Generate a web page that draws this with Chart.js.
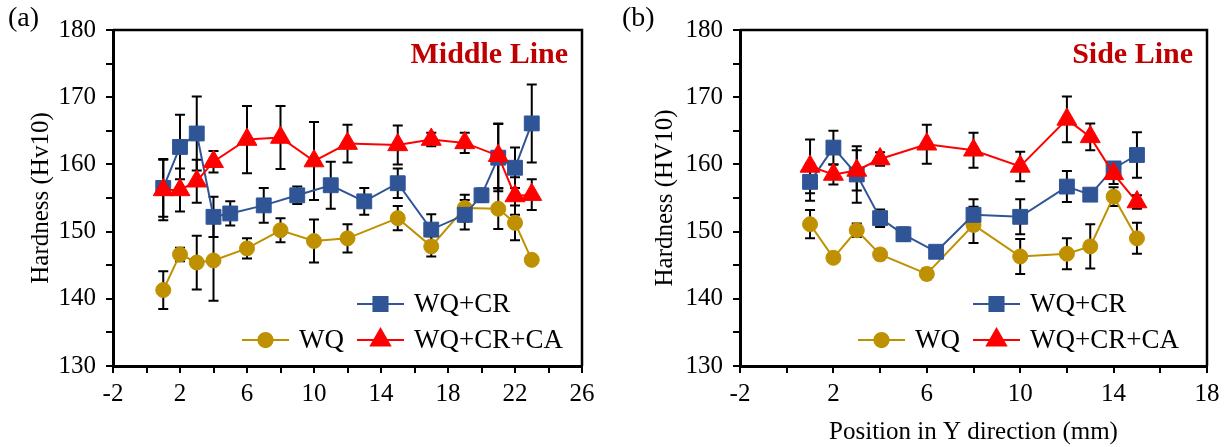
<!DOCTYPE html>
<html><head><meta charset="utf-8">
<script src="https://cdn.jsdelivr.net/npm/chart.js@4.4.1/dist/chart.umd.min.js"></script>
<style>
html,body{margin:0;padding:0;background:#fff;}
#wrap{position:relative;width:1231px;height:447px;overflow:hidden;}
.box{position:absolute;top:0;height:447px;}
#b1{left:0;width:616px;} #b2{left:616px;width:615px;}
canvas{display:block;}
</style></head><body>
<div id="wrap">
<div class="box" id="b1"><canvas id="c1" width="616" height="447"></canvas></div>
<div class="box" id="b2"><canvas id="c2" width="615" height="447"></canvas></div>
</div>
<script>
// ---------- DATA ----------
const seriesNames = ['WQ+CR', 'WQ+CR+CA', 'WQ'];
const panelLetters = ['(a)', '(b)'];
const panelLabels = ['Middle Line', 'Side Line'];
const yTitles = ['Hardness (Hv10)', 'Hardness (HV10)'];
const xTitle = 'Position in Y direction (mm)';
const yTickLabels = [130, 140, 150, 160, 170, 180];
const xTickLabelsMid = [-2, 2, 6, 10, 14, 18, 22, 26];
const xTickLabelsSide = [-2, 2, 6, 10, 14, 18];

// Middle line
const midX_CR = [1, 2, 3, 4, 5, 7, 9, 11, 13, 15, 17, 19, 20, 21, 22, 23];
const midCR = [156.5, 162.6, 164.6, 152.2, 152.7, 153.9, 155.4, 156.9, 154.5, 157.2, 150.3, 152.5, 155.4, 161.0, 159.5, 166.1];
const midCR_err = [4.3, 4.8, 5.5, 3.0, 1.8, 2.6, 1.3, 3.5, 2.0, 2.2, 2.3, 2.2, 1.0, 5.0, 3.0, 5.8];

const midX_CA = [1, 2, 3, 4, 6, 8, 10, 12, 15, 17, 19, 21, 22, 23];
const midCA = [156.2, 156.2, 157.5, 160.4, 163.7, 164.0, 160.5, 163.1, 162.9, 163.7, 163.2, 161.3, 155.3, 155.5];
const midCA_err = [4.5, 3.2, 3.2, 1.6, 5.0, 4.7, 5.8, 2.8, 2.9, 1.0, 1.5, 4.8, 2.8, 2.3];

const midX_WQ = [1, 2, 3, 4, 6, 8, 10, 12, 15, 17, 19, 21, 22, 23];
const midWQ = [141.3, 146.6, 145.4, 145.7, 147.5, 150.2, 148.6, 149.0, 152.0, 147.8, 153.5, 153.4, 151.3, 145.8];
const midWQ_err = [2.8, 1.0, 4.0, 6.0, 1.5, 1.8, 3.2, 2.1, 1.8, 1.5, 2.0, 3.0, 2.6, 0];

// Side line
const sideX_CR = [1, 2, 3, 4, 5, 6.4, 8, 10, 12, 13, 14, 15];
const sideCR = [157.4, 162.5, 158.5, 152.0, 149.6, 147.0, 152.5, 152.2, 156.7, 155.5, 159.4, 161.4];
const sideCR_err = [2.8, 2.5, 4.2, 1.3, 1.0, 0.6, 2.3, 2.6, 2.3, 0.3, 0.5, 3.4];

const sideX_CA = [1, 2, 3, 4, 6, 8, 10, 12, 13, 14, 15];
const sideCA = [159.7, 158.5, 159.1, 160.8, 163.0, 162.1, 159.7, 166.7, 164.1, 158.6, 154.4];
const sideCA_err = [4.0, 1.5, 3.0, 1.0, 2.9, 2.6, 2.2, 3.4, 2.0, 1.5, 1.0];

const sideX_WQ = [1, 2, 3, 4, 6, 8, 10, 12, 13, 14, 15];
const sideWQ = [151.1, 146.1, 150.2, 146.6, 143.7, 151.0, 146.3, 146.7, 147.8, 155.2, 149.0];
const sideWQ_err = [2.1, 0.5, 1.0, 0.8, 0.8, 2.7, 2.6, 2.3, 3.3, 1.4, 2.3];

// ---------- STYLE ----------
const SERIF = '"Liberation Serif", "Times New Roman", serif';
const styles = {
  'WQ+CR': {color: '#2F5597', pointStyle: 'rect', radius: 10.5, order: 1},
  'WQ+CR+CA': {color: '#FF0000', pointStyle: 'triangle', radius: 11.5, order: 0},
  'WQ': {color: '#BF9000', pointStyle: 'circle', radius: 7.5, order: 2}
};

function toPts(xs, ys) { return xs.map((x, i) => ({x: x, y: ys[i]})); }

function makeDataset(name, xs, ys) {
  const s = styles[name];
  return {
    label: name, data: toPts(xs, ys),
    borderColor: s.color, backgroundColor: s.color, borderWidth: 2,
    pointStyle: s.pointStyle, pointRadius: s.radius, pointHoverRadius: s.radius,
    pointBackgroundColor: s.color, pointBorderColor: s.color, pointBorderWidth: 1,
    tension: 0, order: s.order, fill: false
  };
}

function extrasPlugin(p) {
  return {
    id: 'extras' + p.idx,
    beforeDatasetsDraw(chart) {
      const {ctx, scales: {x, y}} = chart;
      ctx.save();
      ctx.strokeStyle = '#000'; ctx.lineWidth = 2;
      p.err.forEach(s => {
        s.xs.forEach((xv, i) => {
          const e = s.err[i];
          if (!e) return;
          const px = x.getPixelForValue(xv);
          const t = y.getPixelForValue(s.vals[i] + e);
          const b = y.getPixelForValue(s.vals[i] - e);
          ctx.beginPath();
          ctx.moveTo(px, t); ctx.lineTo(px, b);
          ctx.moveTo(px - 5, t); ctx.lineTo(px + 5, t);
          ctx.moveTo(px - 5, b); ctx.lineTo(px + 5, b);
          ctx.stroke();
        });
      });
      ctx.restore();
    },
    afterDraw(chart) {
      const {ctx, chartArea: a} = chart;
      ctx.save();
      // top & right frame
      ctx.strokeStyle = '#000'; ctx.lineWidth = 2.5;
      ctx.beginPath();
      ctx.moveTo(a.left, a.top); ctx.lineTo(a.right, a.top); ctx.lineTo(a.right, a.bottom);
      ctx.stroke();
      // panel letter
      ctx.fillStyle = '#000';
      ctx.font = '28px ' + SERIF;
      ctx.textAlign = 'left'; ctx.textBaseline = 'middle';
      ctx.fillText(p.letter, p.letterX, 19);
      // line label
      ctx.fillStyle = '#C00000';
      ctx.font = 'bold 30px ' + SERIF;
      ctx.textAlign = 'right';
      ctx.fillText(p.label, a.right - 14, 55);
      // legend
      const rows = [
        {name: 'WQ+CR', x0: 357, y: 304},
        {name: 'WQ', x0: 242, y: 340},
        {name: 'WQ+CR+CA', x0: 357, y: 340}
      ];
      ctx.font = '27px ' + SERIF;
      ctx.textAlign = 'left'; ctx.textBaseline = 'middle';
      rows.forEach(r => {
        const s = styles[r.name];
        ctx.strokeStyle = s.color; ctx.lineWidth = 2;
        ctx.beginPath(); ctx.moveTo(r.x0, r.y); ctx.lineTo(r.x0 + 47, r.y); ctx.stroke();
        ctx.fillStyle = s.color;
        Chart.helpers.drawPoint(ctx, {pointStyle: s.pointStyle, radius: s.radius * 0.95, rotation: 0, borderWidth: 1}, r.x0 + 23.5, r.y);
        ctx.fillStyle = '#000';
        ctx.fillText(r.name, r.x0 + 57, r.y + 1);
      });
      ctx.restore();
    }
  };
}

function makeChart(id, p) {
  const tickFont = {family: SERIF, size: 25};
  return new Chart(document.getElementById(id), {
    type: 'line',
    data: {datasets: p.datasets},
    options: {
      responsive: false, animation: false,
      layout: {padding: {top: 30, right: p.padRight, left: 0, bottom: 0}},
      plugins: {legend: {display: false}, tooltip: {enabled: false}},
      scales: {
        x: {
          type: 'linear', min: -2, max: p.xMax,
          afterFit: s => { s.height = 81; },
          ticks: {stepSize: 2, autoSkip: false, maxRotation: 0, color: '#000', font: tickFont, padding: 6,
            callback: v => (p.xLabels.includes(v) ? String(v) : '')},
          grid: {drawOnChartArea: false, drawTicks: true, tickLength: 7, color: '#000', lineWidth: 2},
          border: {display: true, color: '#000', width: 3},
          title: {display: p.showXTitle, text: xTitle, color: '#000', font: {family: SERIF, size: 25}, padding: {top: 0, bottom: 0}}
        },
        y: {
          type: 'linear', min: 130, max: 180,
          afterFit: s => { s.width = p.yWidth; },
          ticks: {stepSize: 5, autoSkip: false, color: '#000', font: tickFont, padding: 10,
            callback: v => (yTickLabels.includes(v) ? String(v) : '')},
          grid: {drawOnChartArea: false, drawTicks: true, tickLength: 7, color: '#000', lineWidth: 2},
          border: {display: true, color: '#000', width: 3},
          title: {display: true, text: p.yTitle, color: '#000', font: {family: SERIF, size: 25}, padding: {top: p.yTitlePad, bottom: 0}}
        }
      }
    },
    plugins: [extrasPlugin(p)]
  });
}

makeChart('c1', {
  idx: 1, letter: panelLetters[0], letterX: 8, label: panelLabels[0], yTitle: yTitles[0],
  xMax: 26, xLabels: xTickLabelsMid, padRight: 34, yWidth: 113, yTitlePad: 26, showXTitle: false,
  datasets: [
    makeDataset('WQ+CR', midX_CR, midCR),
    makeDataset('WQ+CR+CA', midX_CA, midCA),
    makeDataset('WQ', midX_WQ, midWQ)
  ],
  err: [
    {xs: midX_WQ, vals: midWQ, err: midWQ_err},
    {xs: midX_CR, vals: midCR, err: midCR_err},
    {xs: midX_CA, vals: midCA, err: midCA_err}
  ]
});

makeChart('c2', {
  idx: 2, letter: panelLetters[1], letterX: 6, label: panelLabels[1], yTitle: yTitles[1],
  xMax: 18, xLabels: xTickLabelsSide, padRight: 24, yWidth: 124, yTitlePad: 34, showXTitle: true,
  datasets: [
    makeDataset('WQ+CR', sideX_CR, sideCR),
    makeDataset('WQ+CR+CA', sideX_CA, sideCA),
    makeDataset('WQ', sideX_WQ, sideWQ)
  ],
  err: [
    {xs: sideX_WQ, vals: sideWQ, err: sideWQ_err},
    {xs: sideX_CR, vals: sideCR, err: sideCR_err},
    {xs: sideX_CA, vals: sideCA, err: sideCA_err}
  ]
});
</script>
</body></html>
